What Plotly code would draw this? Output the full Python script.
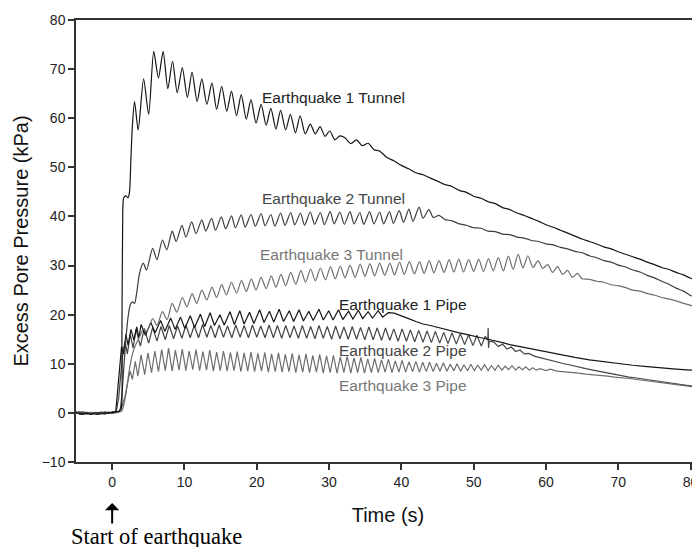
import plotly.graph_objects as go

# ---------------- data ----------------
base_t = [-5.0, -4.5, -4.0, -3.5, -3.0, -2.5, -2.0, -1.5, -1.0, -0.5, 0.0, 0.5]

# Earthquake 1 Tunnel
eq1t_base_v = [0.1, -0.2, -0.3, -0.1, -0.3, -0.2, -0.3, -0.1, -0.2, 0.1, 0.0, 0.2]
eq1t_rise_t = [1.0, 1.25, 1.35, 1.45, 1.6, 1.9, 2.2, 2.4, 2.6, 2.8]
eq1t_rise_v = [0.4, 0.8, 15.0, 38.0, 43.8, 44.2, 43.8, 45.0, 52.0, 58.5]
eq1t_peak_t = [3.1, 4.35, 5.75, 7.05, 8.35, 9.7, 11.05, 12.4, 13.8, 15.15, 16.5, 17.85,
               19.2, 20.6, 21.95, 23.3, 24.65, 26.0, 27.4, 28.75, 30.1, 31.5]
eq1t_peak_v = [63.4, 68.0, 73.6, 73.6, 71.6, 70.3, 69.4, 68.0, 67.2, 66.5, 65.5, 64.8,
               63.8, 62.8, 62.0, 61.6, 60.8, 60.5, 58.8, 58.3, 57.4, 56.4]
eq1t_trough_t = [3.6, 5.05, 6.4, 7.7, 9.0, 10.4, 11.75, 13.1, 14.45, 15.85, 17.2, 18.55,
                 19.9, 21.3, 22.65, 24.0, 25.35, 26.7, 28.1, 29.45, 30.8]
eq1t_trough_v = [57.6, 60.8, 68.2, 66.0, 65.2, 64.2, 63.4, 62.8, 61.8, 61.4, 60.5, 59.8,
                 59.0, 58.6, 57.8, 57.6, 57.0, 56.8, 56.8, 56.3, 55.6]
eq1t_tail_t = [32.2, 33.0, 33.8, 34.6, 35.4, 36.2, 37, 38, 39, 40, 41, 42, 43, 44, 45, 46, 47,
               48, 49, 50, 51, 52, 53, 54, 55, 56, 57, 58, 59, 60, 61, 62, 63, 64, 65, 66,
               67, 68, 69, 70, 71, 72, 73, 74, 75, 76, 77, 78, 79, 80, 81.5]
eq1t_tail_v = [56.0, 54.8, 55.6, 54.4, 54.9, 53.6, 53.3, 52.0, 51.3, 50.4, 49.7, 48.9, 48.5,
               47.8, 47.2, 46.5, 46.1, 45.3, 44.9, 44.1, 43.7, 43.0, 42.6, 41.8, 41.4, 40.7,
               40.2, 39.6, 39.0, 38.3, 37.8, 37.2, 36.6, 36.0, 35.4, 34.9, 34.4, 33.8, 33.4,
               32.8, 32.3, 31.8, 31.3, 30.7, 30.2, 29.6, 29.2, 28.6, 28.1, 27.4, 26.6]

# Earthquake 2 Tunnel
eq2t_base_v = [0.0, 0.2, -0.1, 0.1, -0.2, 0.0, 0.1, -0.1, 0.2, 0.0, 0.1, 0.2]
eq2t_rise_t = [1.0, 1.3, 1.6, 1.9, 2.2, 2.5, 2.8, 3.1, 3.4, 3.8]
eq2t_rise_v = [0.3, 3.0, 9.0, 15.0, 19.5, 22.0, 22.6, 22.3, 24.5, 28.5]
eq2t_peak_t = [4.3, 5.6, 6.95, 8.3, 9.65, 11.0, 12.4, 13.75, 15.1, 16.5, 17.85, 19.2, 20.6,
               21.95, 23.3, 24.7, 26.05, 27.4, 28.8, 30.15, 31.5, 32.9, 34.25, 35.6, 37.0,
               38.35, 39.7, 41.05, 42.45, 43.8]
eq2t_peak_v = [30.5, 33.5, 35.2, 37.0, 38.2, 38.9, 39.3, 39.6, 39.9, 40.1, 40.3, 40.4, 40.6,
               40.4, 40.7, 40.8, 40.7, 40.9, 40.8, 41.0, 40.9, 41.0, 40.8, 41.0, 40.9,
               41.0, 41.2, 41.5, 41.9, 41.4]
eq2t_trough_t = [4.75, 6.2, 7.55, 8.85, 10.2, 11.6, 12.95, 14.3, 15.7, 17.05, 18.4, 19.8,
                 21.15, 22.5, 23.9, 25.25, 26.6, 28.0, 29.35, 30.7, 32.1, 33.45, 34.8, 36.2,
                 37.55, 38.9, 40.3, 41.6, 43.0, 44.4]
eq2t_trough_v = [29.1, 31.2, 33.2, 34.9, 35.8, 36.5, 37.0, 37.2, 37.5, 37.7, 37.8, 38.0,
                 38.1, 38.0, 38.2, 38.3, 38.2, 38.4, 38.3, 38.5, 38.4, 38.5, 38.4, 38.5,
                 38.5, 38.6, 38.8, 39.0, 39.6, 39.8]
eq2t_tail_t = [45.2, 46, 47, 48, 49, 50, 51, 52, 53, 54, 55, 56, 57, 58, 59, 60, 61, 62, 63,
               64, 65, 66, 67, 68, 69, 70, 71, 72, 73, 74, 75, 76, 77, 78, 79, 80, 81.5]
eq2t_tail_v = [40.2, 39.4, 39.1, 38.5, 38.2, 37.7, 37.6, 37.0, 36.9, 36.4, 36.3, 35.8, 35.6,
               35.1, 34.9, 34.4, 34.2, 33.7, 33.4, 32.9, 32.6, 32.0, 31.6, 31.0, 30.7, 30.1,
               29.7, 29.1, 28.7, 28.0, 27.5, 26.8, 26.2, 25.4, 24.8, 23.9, 22.9]

# Earthquake 3 Tunnel
eq3t_base_v = [-0.1, 0.1, 0.0, -0.2, 0.1, -0.1, 0.0, 0.2, -0.1, 0.1, 0.0, 0.1]
eq3t_rise_t = [1.3, 1.8, 2.3, 2.8, 3.3, 3.8, 4.3, 4.8]
eq3t_rise_v = [0.3, 3.0, 8.0, 12.0, 14.0, 15.5, 17.0, 16.6]
eq3t_peak_t = [5.6, 6.95, 8.3, 9.7, 11.05, 12.4, 13.8, 15.15, 16.5, 17.9, 19.25, 20.6, 22.0,
               23.35, 24.7, 26.1, 27.45, 28.8, 30.2, 31.55, 32.9, 34.3, 35.65, 37.0, 38.4,
               39.75, 41.1, 42.5, 43.85, 45.2, 46.6, 47.95, 49.3, 50.7, 52.05, 53.4, 54.8,
               56.15, 57.5, 58.9, 60.25, 61.6, 63.0, 64.35]
eq3t_peak_v = [19.2, 20.6, 22.3, 23.5, 24.3, 25.0, 25.6, 26.1, 26.6, 27.0, 27.3, 27.6, 27.9,
               28.2, 28.6, 29.0, 29.3, 29.5, 29.8, 29.9, 30.1, 30.3, 30.4, 30.5, 30.5,
               30.7, 30.8, 30.8, 31.0, 31.0, 31.2, 31.3, 31.2, 31.3, 31.4, 31.6, 31.9,
               32.3, 32.0, 31.0, 30.2, 29.8, 29.0, 28.4]
eq3t_trough_t = [6.2, 7.6, 8.95, 10.35, 11.7, 13.1, 14.45, 15.8, 17.2, 18.55, 19.9, 21.3,
                 22.65, 24.0, 25.4, 26.75, 28.1, 29.5, 30.85, 32.2, 33.6, 34.95, 36.3, 37.7,
                 39.05, 40.4, 41.8, 43.15, 44.5, 45.9, 47.25, 48.6, 50.0, 51.35, 52.7, 54.1,
                 55.45, 56.8, 58.2, 59.55, 60.9, 62.3, 63.65]
eq3t_trough_v = [17.8, 19.0, 20.5, 21.6, 22.3, 23.0, 23.5, 24.0, 24.4, 24.7, 25.0, 25.3,
                 25.6, 25.9, 26.2, 26.6, 26.9, 27.1, 27.3, 27.5, 27.6, 27.8, 27.9, 28.0,
                 28.1, 28.2, 28.3, 28.4, 28.5, 28.6, 28.7, 28.7, 28.8, 28.8, 28.9, 28.9,
                 29.2, 29.5, 29.6, 29.4, 28.6, 28.2, 27.6]
eq3t_tail_t = [65, 66, 67, 68, 69, 70, 71, 72, 73, 74, 75, 76, 77, 78, 79, 80, 81.5]
eq3t_tail_v = [27.3, 27.2, 26.8, 26.6, 26.1, 25.9, 25.5, 25.0, 24.8, 24.3, 24.0, 23.5, 23.2,
               22.8, 22.3, 21.9, 21.3]

# Earthquake 1 Pipe
eq1p_base_v = [0.2, -0.1, 0.0, -0.2, 0.1, -0.1, -0.2, 0.0, 0.1, -0.1, 0.2, 0.3]
eq1p_rise_t = [0.7, 1.0, 1.3, 1.6, 1.9, 2.2, 2.6, 3.0, 3.4, 3.7]
eq1p_rise_v = [4.0, 9.0, 13.5, 12.0, 16.0, 13.8, 17.0, 14.8, 17.5, 15.3]
eq1p_peak_t = [4.0, 5.35, 6.7, 8.1, 9.45, 10.8, 12.2, 13.55, 14.9, 16.3, 17.65, 19.0, 20.4,
               21.75, 23.1, 24.5, 25.85, 27.2, 28.6, 29.95, 31.3, 32.7, 34.05, 35.4, 36.8]
eq1p_peak_v = [18.0, 18.4, 18.8, 19.3, 19.5, 19.8, 20.1, 20.4, 20.0, 20.6, 20.8, 20.5, 21.0,
               20.7, 21.1, 20.8, 21.0, 20.7, 21.1, 20.8, 21.0, 20.7, 20.9, 20.6, 20.8]
eq1p_trough_t = [4.6, 5.95, 7.3, 8.7, 10.05, 11.4, 12.8, 14.15, 15.5, 16.9, 18.25, 19.6,
                 21.0, 22.35, 23.7, 25.1, 26.45, 27.8, 29.2, 30.55, 31.9, 33.3, 34.65, 36.0,
                 37.4]
eq1p_trough_v = [15.8, 16.3, 16.6, 17.0, 17.2, 17.4, 17.6, 17.8, 17.9, 18.0, 18.1, 18.2,
                 18.4, 18.5, 18.6, 18.6, 18.7, 18.8, 18.9, 18.9, 19.0, 19.1, 19.2, 19.3, 19.5]
eq1p_tail_t = [38.2, 39, 40, 41, 42, 43, 44, 45, 46, 47, 48, 49, 50, 51, 52, 53, 54, 55, 56,
               57, 58, 59, 60, 62, 64, 66, 68, 70, 72, 74, 76, 78, 80, 81.5]
eq1p_tail_v = [20.4, 20.3, 19.8, 19.2, 18.6, 18.1, 17.8, 17.4, 17.0, 16.6, 16.3, 16.0, 15.6,
               15.3, 15.0, 14.7, 14.3, 13.9, 13.6, 13.3, 13.0, 12.7, 12.4, 11.8, 11.3, 10.8,
               10.4, 10.0, 9.7, 9.4, 9.1, 8.9, 8.7, 8.6]

# Earthquake 2 Pipe
eq2p_base_v = [-0.1, 0.1, 0.2, 0.0, -0.1, 0.1, 0.0, -0.2, 0.0, 0.1, 0.0, 0.2]
eq2p_rise_t = [0.6, 0.9, 1.2, 1.5, 1.8, 2.1, 2.5, 2.9]
eq2p_rise_v = [0.5, 3.0, 8.0, 12.5, 14.5, 12.0, 16.0, 13.2]
eq2p_peak_t = [3.3, 4.45, 5.6, 6.75, 7.9, 9.05, 10.2, 11.35, 12.5, 13.65, 14.8, 15.95, 17.1,
               18.25, 19.4, 20.55, 21.7, 22.85, 24.0, 25.15, 26.3, 27.45, 28.6, 29.75, 30.9,
               32.05, 33.2, 34.35, 35.5, 36.65, 37.8, 38.95, 40.1, 41.25, 42.4, 43.55, 44.7,
               45.85, 47.0, 48.15, 49.3, 50.45, 51.6]
eq2p_peak_v = [17.0, 17.2, 17.4, 17.6, 17.8, 17.7, 17.9, 17.8, 18.0, 17.8, 17.9, 17.7, 17.9,
               17.8, 17.9, 17.7, 17.9, 17.8, 17.8, 17.7, 17.8, 17.6, 17.8, 17.6, 17.7,
               17.5, 17.6, 17.4, 17.5, 17.3, 17.3, 17.1, 17.1, 16.9, 16.8, 16.7, 16.6,
               16.4, 16.3, 16.1, 15.9, 15.8, 15.6]
eq2p_trough_t = [3.9, 5.05, 6.2, 7.35, 8.5, 9.65, 10.8, 11.95, 13.1, 14.25, 15.4, 16.55, 17.7,
                 18.85, 20.0, 21.15, 22.3, 23.45, 24.6, 25.75, 26.9, 28.05, 29.2, 30.35,
                 31.5, 32.65, 33.8, 34.95, 36.1, 37.25, 38.4, 39.55, 40.7, 41.85, 43.0,
                 44.15, 45.3, 46.45, 47.6, 48.75, 49.9, 51.05]
eq2p_trough_v = [13.6, 14.2, 14.6, 14.9, 15.1, 15.2, 15.3, 15.3, 15.4, 15.3, 15.4, 15.3, 15.4,
                 15.3, 15.4, 15.3, 15.3, 15.2, 15.3, 15.2, 15.2, 15.1, 15.2, 15.0, 15.1,
                 15.0, 15.0, 14.9, 14.9, 14.8, 14.8, 14.6, 14.6, 14.5, 14.4, 14.3, 14.2,
                 14.1, 14.0, 13.9, 13.7, 13.6]
eq2p_tail_t = [51.95, 52.0, 52.05, 52.15, 52.8, 53.4, 54.0, 54.6, 55.2, 55.8, 56.4, 57.0,
               57.6, 58.5, 59.5, 60.5, 61.5, 62.5, 63.5, 64.5, 65.5, 66.5, 67.5, 68.5, 69.5,
               70.5, 71.5, 72.5, 73.5, 74.5, 75.5, 76.5, 77.5, 78.5, 79.5, 80.5, 81.5]
eq2p_tail_v = [14.8, 17.3, 13.2, 14.6, 14.4, 13.5, 14.0, 13.0, 13.4, 12.5, 12.8, 12.0, 12.1,
               11.5, 11.1, 10.8, 10.4, 10.0, 9.7, 9.3, 9.0, 8.7, 8.4, 8.1, 7.8, 7.5, 7.3,
               7.1, 6.9, 6.7, 6.5, 6.2, 6.0, 5.8, 5.6, 5.4, 5.2]

# Earthquake 3 Pipe
eq3p_base_v = [0.1, -0.2, -0.1, 0.1, -0.2, 0.0, -0.1, 0.1, -0.2, 0.0, 0.1, 0.0]
eq3p_rise_t = [1.0, 1.4, 1.8, 2.2, 2.5, 2.8, 3.2, 3.55]
eq3p_rise_v = [0.4, 1.5, 3.5, 6.5, 8.5, 6.8, 10.5, 7.5]
eq3p_peak_t = [4.0, 4.95, 5.9, 6.85, 7.8, 8.75, 9.7, 10.65, 11.6, 12.55, 13.5, 14.45, 15.4,
               16.35, 17.3, 18.25, 19.2, 20.15, 21.1, 22.05, 23.0, 23.95, 24.9, 25.85, 26.8,
               27.75, 28.7, 29.65, 30.6, 31.55, 32.5, 33.45, 34.4, 35.35, 36.3, 37.25, 38.2,
               39.15, 40.1, 41.05, 42.0, 42.95, 43.9, 44.85, 45.8, 46.75, 47.7, 48.65, 49.6,
               50.55, 51.5, 52.45, 53.4, 54.35, 55.3, 56.25, 57.2, 58.15]
eq3p_peak_v = [11.8, 12.2, 12.6, 12.9, 13.2, 12.8, 13.0, 12.6, 12.9, 12.5, 12.8, 12.4,
               12.6, 12.3, 12.5, 12.2, 12.4, 12.1, 12.3, 12.0, 12.2, 11.9, 12.1, 11.8, 12.0,
               11.7, 11.9, 11.6,
               11.7, 11.4, 11.5, 11.2, 11.3, 11.0, 11.1, 10.8, 10.9, 10.6, 10.7, 10.4, 10.5,
               10.3, 10.3, 10.1,
               10.2, 9.9, 10.0, 9.8, 9.9, 9.7, 9.8, 9.6, 9.7, 9.5, 9.6, 9.4, 9.4, 9.2]
eq3p_trough_t = [4.5, 5.45, 6.4, 7.35, 8.3, 9.25, 10.2, 11.15, 12.1, 13.05, 14.0, 14.95,
                 15.9, 16.85, 17.8, 18.75, 19.7, 20.65, 21.6, 22.55, 23.5, 24.45, 25.4,
                 26.35, 27.3, 28.25, 29.2, 30.15, 31.1, 32.05, 33.0, 33.95, 34.9, 35.85,
                 36.8, 37.75, 38.7, 39.65, 40.6, 41.55, 42.5, 43.45, 44.4, 45.35, 46.3,
                 47.25, 48.2, 49.15, 50.1, 51.05, 52.0, 52.95, 53.9, 54.85, 55.8, 56.75,
                 57.7, 58.65]
eq3p_trough_v = [7.8, 8.2, 8.4, 8.6, 8.5, 8.7, 8.6, 8.8, 8.6, 8.7, 8.5, 8.6,
                 8.5, 8.6, 8.4, 8.5, 8.4, 8.5, 8.3, 8.4, 8.3, 8.4, 8.2, 8.3, 8.2, 8.3, 8.1, 8.2,
                 8.1, 8.2, 8.1, 8.2, 8.1, 8.2, 8.2, 8.3, 8.2, 8.3, 8.3, 8.4, 8.3, 8.4, 8.4, 8.5,
                 8.5, 8.6, 8.5, 8.6, 8.6, 8.7, 8.6, 8.7, 8.7, 8.8, 8.7, 8.8, 8.7, 8.7]
eq3p_tail_t = [59.2, 60.0, 60.6, 61.5, 62.5, 63.5, 64.5, 65.5, 66.5, 67.5, 68.5, 69.5, 70.5,
               71.5, 72.5, 73.5, 74.5, 75.5, 76.5, 77.5, 78.5, 79.5, 80.5, 81.5]
eq3p_tail_v = [9.0, 8.6, 8.9, 8.5, 8.4, 8.2, 8.1, 7.9, 7.8, 7.6, 7.5, 7.3, 7.2, 7.0, 6.8,
               6.6, 6.4, 6.3, 6.1, 5.9, 5.7, 5.5, 5.3, 5.1]

x_ticks = [0, 10, 20, 30, 40, 50, 60, 70, 80]
y_ticks = [-10, 0, 10, 20, 30, 40, 50, 60, 70, 80]

labels = ["Earthquake 1 Tunnel", "Earthquake 2 Tunnel", "Earthquake 3 Tunnel",
          "Earthquake 1 Pipe", "Earthquake 2 Pipe", "Earthquake 3 Pipe"]
label_x = [20.4, 20.4, 20.2, 31.1, 31.1, 31.1]
label_y = [64.2, 43.6, 32.3, 22.0, 12.7, 5.6]


def merge(*segments):
    pts = []
    for ts, vs in segments:
        pts.extend(zip(ts, vs))
    pts.sort(key=lambda p: p[0])
    return [p[0] for p in pts], [p[1] for p in pts]


series = [
    ("Earthquake 3 Pipe", merge((base_t, eq3p_base_v), (eq3p_rise_t, eq3p_rise_v),
                                (eq3p_peak_t, eq3p_peak_v), (eq3p_trough_t, eq3p_trough_v),
                                (eq3p_tail_t, eq3p_tail_v)), "#6e6e6e", "linear"),
    ("Earthquake 2 Pipe", merge((base_t, eq2p_base_v), (eq2p_rise_t, eq2p_rise_v),
                                (eq2p_peak_t, eq2p_peak_v), (eq2p_trough_t, eq2p_trough_v),
                                (eq2p_tail_t, eq2p_tail_v)), "#454545", "linear"),
    ("Earthquake 1 Pipe", merge((base_t, eq1p_base_v), (eq1p_rise_t, eq1p_rise_v),
                                (eq1p_peak_t, eq1p_peak_v), (eq1p_trough_t, eq1p_trough_v),
                                (eq1p_tail_t, eq1p_tail_v)), "#161616", "linear"),
    ("Earthquake 3 Tunnel", merge((base_t, eq3t_base_v), (eq3t_rise_t, eq3t_rise_v),
                                  (eq3t_peak_t, eq3t_peak_v), (eq3t_trough_t, eq3t_trough_v),
                                  (eq3t_tail_t, eq3t_tail_v)), "#6e6e6e", "spline"),
    ("Earthquake 2 Tunnel", merge((base_t, eq2t_base_v), (eq2t_rise_t, eq2t_rise_v),
                                  (eq2t_peak_t, eq2t_peak_v), (eq2t_trough_t, eq2t_trough_v),
                                  (eq2t_tail_t, eq2t_tail_v)), "#3c3c3c", "spline"),
    ("Earthquake 1 Tunnel", merge((base_t, eq1t_base_v), (eq1t_rise_t, eq1t_rise_v),
                                  (eq1t_peak_t, eq1t_peak_v), (eq1t_trough_t, eq1t_trough_v),
                                  (eq1t_tail_t, eq1t_tail_v)), "#161616", "spline"),
]

fig = go.Figure()
for name, (xs, ys), color, shape in series:
    line = dict(color=color, width=1.2, shape=shape)
    if shape == "spline":
        line["smoothing"] = 0.7
    fig.add_trace(go.Scatter(x=xs, y=ys, mode="lines", name=name, line=line,
                             showlegend=False, hoverinfo="skip"))

label_colors = ["#222222", "#444444", "#777777", "#222222", "#444444", "#777777"]
annotations = []
for txt, lx, ly, lc in zip(labels, label_x, label_y, label_colors):
    annotations.append(dict(x=lx, y=ly, xref="x", yref="y", text=txt, showarrow=False,
                            xanchor="left", yanchor="middle",
                            font=dict(family="Liberation Sans, Arial", size=15.5, color=lc)))

# arrow marking the start of the earthquake
annotations.append(dict(x=0, y=-0.093, xref="x", yref="paper", text="", showarrow=True,
                        ax=0, ay=22, axref="pixel", ayref="pixel",
                        arrowhead=1, arrowsize=1.2, arrowwidth=2, arrowcolor="#000000"))
annotations.append(dict(x=-0.012, y=-0.136, xref="paper", yref="paper",
                        text="Start of earthquake", showarrow=False,
                        xanchor="left", yanchor="top",
                        font=dict(family="Liberation Serif, Times New Roman", size=22.5,
                                  color="#000000")))

# the page body adds an 8 px offset, so the figure is sized to end at the window edge
fig.update_layout(
    width=692, height=539,
    margin=dict(l=68, r=0, t=12, b=85),
    paper_bgcolor="white", plot_bgcolor="white",
    font=dict(family="Liberation Sans, Arial", color="#222222"),
    annotations=annotations,
)
fig.update_xaxes(
    range=[-5, 81.3], tickvals=x_ticks, ticks="outside", ticklen=6, tickwidth=1.5,
    tickcolor="#333333", showline=True, linecolor="#333333", linewidth=1.5, mirror=True,
    showgrid=False, zeroline=False, automargin=False,
    tickfont=dict(size=14, color="#222222"),
    title=dict(text="Time (s)", font=dict(size=20, color="#111111"), standoff=19),
)
fig.update_yaxes(
    range=[-10, 80], tickvals=y_ticks, ticks="outside", ticklen=6, tickwidth=1.5,
    tickcolor="#333333", showline=True, linecolor="#333333", linewidth=1.5, mirror=False,
    showgrid=False, zeroline=False, automargin=False,
    tickfont=dict(size=14, color="#222222"),
    title=dict(text="Excess Pore Pressure (kPa)", font=dict(size=20, color="#111111"),
               standoff=8),
)

fig.write_html("out.html")
